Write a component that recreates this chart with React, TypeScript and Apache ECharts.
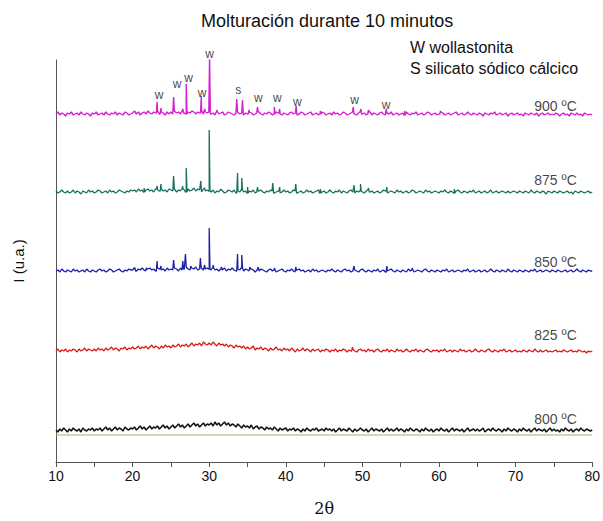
import React, { useEffect, useRef } from "react";
import * as echarts from "echarts";

// 2θ grid of the background readings: 10 .. 80 in 0.25° steps (rows of 5°)
const START = 10;
const STEP = 0.25;

// baselines (axis units, 0 = x axis)
const base900 = 348;
const base875 = 270;
const base850 = 191;
const base825 = 110;
const base800 = 31;
const baseRef = 27;

const noise900 = [
  0, 2, -1, 1, 0, -2, 1, 0, 2, -1, 0, 1, -1, 2, 0, -1, 1, 0, -2, 1,
  0, 2, -1, 0, 1, -1, 2, 0, -1, 1, 0, 2, -1, 1, 0, -1, 2, 1, -1, 0,
  1, 3, 0, 2, -1, 1, 2, 0, 3, 1, 0, 2, 1, 3, 0, 2, 1, -1, 2, 0,
  2, 0, 3, 1, 2, 0, 3, 1, 0, 2, 1, 3, 2, 0, 2, 1, 3, 0, 2, 1,
  2, 0, 1, -1, 2, 0, 1, 2, -1, 0, 2, 1, 0, -1, 1, 2, 0, 1, -1, 1,
  0, 2, 1, -1, 0, 1, 2, 0, -1, 1, 0, 2, 1, -1, 0, 2, 1, 0, -1, 1,
  0, -1, 1, 2, 0, 1, -1, 0, 2, 1, -1, 0, 1, 2, -1, 0, 1, -1, 0, 2,
  1, -1, 0, 1, -1, 2, 0, 1, -1, 0, 2, 1, -1, 0, 1, 2, 0, -1, 1, 2,
  0, 1, -1, 0, 2, -1, 1, 0, -1, 1, 2, 0, -1, 1, 0, 2, -1, 0, 1, -1,
  0, 1, -1, 2, 0, -1, 1, 0, 2, -1, 0, 1, -1, 0, 2, 1, -1, 0, 1, -1,
  0, 2, 1, -1, 0, 1, -1, 0, 1, 2, -1, 0, 1, -1, 0, 2, 0, -1, 1, 0,
  -1, 1, 0, -2, 1, 0, -1, 1, 0, 2, -1, 0, 1, -1, 0, 1, -2, 0, 1, -1,
  0, 1, -1, 0, -2, 1, 0, -1, 1, 0, -1, 1, -2, 0, 1, -1, 0, 1, -1, 0,
  -1, 1, 0, -2, 0, 1, -1, 0, -2, 1, 0, -1, 1, -1, 0, -2, 1, 0, -1, 0,
  -1,
];
const noise875 = [
  1, -1, 0, 2, 0, -1, 1, -1, 0, 2, -1, 1, 0, -2, 1, 0, -1, 2, 0, 1,
  -1, 0, 2, 1, -1, 0, 1, -1, 2, 0, 1, -1, 0, 2, 1, 0, -1, 1, 0, 2,
  1, 2, 0, 3, 1, 2, 0, 2, 3, 1, 2, 0, 3, 2, 1, 3, 1, 2, 0, 3,
  2, 1, 3, 0, 2, 1, 3, 2, 0, 3, 1, 2, 4, 1, 3, 2, 0, 3, 1, 2,
  1, 0, 2, -1, 1, 0, 2, 1, -1, 0, 2, 1, 0, 2, -1, 1, 0, 2, 0, 1,
  -1, 1, 0, 2, -1, 0, 1, 2, 0, -1, 1, 0, 2, 1, -1, 0, 1, -1, 0, 2,
  0, 1, -1, 0, 2, 1, -1, 0, 1, -1, 0, 2, 0, 1, -1, 0, 1, 2, -1, 0,
  1, -1, 0, 2, 0, -1, 1, 0, 2, -1, 1, 0, -1, 1, 2, 0, -1, 1, 0, 1,
  0, -1, 1, 2, 0, 1, -1, 0, 1, -1, 0, 2, 1, -1, 0, 1, 0, -1, 2, 0,
  1, -1, 0, 1, -1, 0, 2, 1, -1, 0, 1, 0, -1, 2, 0, 1, -1, 0, 1, 0,
  -1, 1, 0, 2, 0, -1, 1, 0, -1, 1, 2, 0, -1, 1, 0, -1, 1, 0, 2, -1,
  0, 1, -1, 0, 1, -1, 0, 2, -1, 0, 1, -1, 0, 1, 0, -1, 1, -1, 0, 1,
  0, -1, 1, 0, -1, 1, 0, -1, 2, 0, -1, 1, 0, -1, 1, 0, -2, 1, 0, -1,
  1, 0, -1, 1, 0, -1, 0, 1, -1, 0, -2, 1, 0, -1, 1, 0, -1, 0, 1, -1,
  0,
];
const noise850 = [
  0, 1, -1, 2, 0, -1, 1, 0, -1, 2, 0, 1, -1, 0, 1, -1, 2, 0, -1, 1,
  0, -1, 1, 2, 0, 1, -1, 0, 2, 1, -1, 0, 1, 2, 0, -1, 1, 0, 2, 1,
  1, 3, 0, 2, 1, 3, 1, 0, 2, 3, 1, 2, 0, 3, 2, 1, 2, 0, 3, 1,
  2, 1, 3, 2, 0, 3, 1, 2, 4, 2, 1, 3, 2, 4, 1, 2, 3, 1, 2, 3,
  2, 1, 3, 1, 2, 0, 2, 1, 3, 0, 2, 1, 3, 1, 0, 2, 1, 3, 0, 2,
  1, 0, 2, 1, -1, 1, 0, 2, 1, 0, -1, 1, 2, 0, 1, -1, 0, 1, 2, 0,
  -1, 1, 0, 2, 0, -1, 1, 2, 0, 1, -1, 0, 1, -1, 2, 0, 1, -1, 0, 1,
  0, -1, 1, 0, 2, 0, -1, 1, 0, -1, 1, 2, 0, 1, -1, 0, 1, 0, -1, 1,
  2, 0, -1, 1, 0, -1, 1, 0, 2, -1, 0, 1, -1, 0, 1, 2, 0, -1, 1, 0,
  -1, 1, 0, -1, 2, 0, 1, -1, 0, 1, 0, -1, 1, 2, 0, -1, 1, 0, -1, 1,
  0, -1, 1, 0, 2, -1, 0, 1, -1, 0, 1, 0, -1, 1, 0, 2, -1, 0, 1, -1,
  0, 1, -1, 0, 1, -1, 0, 2, 0, -1, 1, 0, -1, 1, 0, -1, 2, 0, -1, 1,
  0, -1, 1, 0, -1, 1, 0, -1, 1, 0, 2, -1, 0, 1, -1, 0, 1, 0, -1, 1,
  0, -1, 1, 0, -1, 0, 1, -1, 0, 1, -1, 0, 2, 0, -1, 1, 0, -1, 1, 0,
  0,
];
const noise825 = [
  1, 3, 0, 2, 1, 3, 0, 2, 1, 3, 2, 0, 3, 1, 2, 4, 1, 3, 2, 1,
  3, 1, 4, 2, 3, 1, 4, 2, 3, 5, 2, 4, 3, 1, 4, 3, 5, 2, 4, 3,
  5, 3, 4, 6, 3, 5, 4, 6, 3, 5, 7, 4, 6, 5, 3, 6, 4, 7, 5, 6,
  4, 7, 5, 6, 8, 5, 7, 6, 8, 5, 7, 9, 6, 8, 7, 9, 6, 10, 8, 7,
  9, 7, 10, 8, 6, 9, 7, 8, 6, 8, 5, 7, 6, 4, 7, 5, 6, 4, 6, 3,
  5, 3, 4, 6, 2, 4, 3, 5, 2, 4, 3, 1, 4, 2, 3, 5, 2, 3, 1, 4,
  2, 3, 1, 4, 2, 0, 3, 1, 2, 4, 1, 3, 2, 0, 3, 1, 2, 3, 0, 2,
  1, 3, 2, 0, 2, 1, 3, 0, 2, 1, 3, 2, 0, 2, 1, 3, 1, 0, 2, 3,
  1, 2, 0, 3, 1, 2, 0, 2, 3, 1, 0, 2, 1, 3, 0, 2, 1, 0, 3, 1,
  2, 0, 1, 3, 1, 0, 2, 1, 3, 0, 2, 1, 0, 2, 3, 1, 0, 2, 1, 2,
  0, 2, 1, 3, 0, 1, 2, 0, 2, 1, 0, 3, 1, 2, 0, 1, 2, 0, 1, 3,
  1, 0, 2, 1, 0, 2, 3, 1, 0, 2, 1, 0, 2, 1, 3, 0, 1, 2, 0, 1,
  2, 0, 1, 0, 2, 1, 0, 2, 1, 0, 3, 1, 0, 2, 0, 1, 2, 0, 1, 0,
  1, 2, 0, 1, 0, 2, 1, 0, 1, 2, 0, 1, 0, 2, 1, 0, 1, -1, 1, 0,
  1,
];
const noise800 = [
  1, -1, 2, 0, 3, 1, -1, 2, 0, 3, 1, 0, 2, -1, 3, 1, 0, 2, 1, 3,
  0, 2, 1, 3, 0, 2, 4, 1, 3, 0, 2, 4, 1, 3, 2, 0, 4, 2, 1, 3,
  2, 4, 1, 3, 5, 2, 4, 1, 3, 5, 2, 4, 3, 5, 2, 4, 6, 3, 5, 2,
  4, 6, 3, 5, 7, 4, 6, 3, 5, 7, 4, 6, 8, 5, 7, 4, 6, 8, 5, 7,
  6, 8, 5, 9, 6, 8, 5, 7, 9, 6, 8, 5, 7, 6, 4, 7, 5, 3, 6, 4,
  5, 3, 6, 2, 4, 5, 2, 4, 3, 1, 4, 2, 3, 1, 4, 2, 0, 3, 1, 2,
  3, 0, 2, 1, 3, 0, 2, 1, -1, 2, 0, 3, 1, 0, 2, 1, 3, 0, 1, 2,
  0, 3, 1, 2, 0, 2, -1, 1, 3, 0, 2, 1, 0, 3, 1, -1, 2, 0, 1, 3,
  1, 0, 2, -1, 1, 3, 0, 2, 1, 0, 2, -1, 1, 3, 0, 2, 0, 1, 3, 0,
  2, 1, -1, 2, 0, 3, 1, 0, 2, 1, -1, 2, 0, 3, 1, 0, 2, -1, 1, 2,
  0, 3, 1, 0, 2, -1, 1, 3, 0, 2, 1, 0, 2, -1, 1, 3, 0, 1, 2, 0,
  2, 0, 1, 3, -1, 1, 2, 0, 3, 1, 0, 2, 1, -1, 2, 0, 3, 1, 0, 2,
  1, -1, 2, 0, 3, 1, 0, 2, -1, 1, 3, 0, 2, 1, 0, 2, -1, 1, 3, 0,
  2, 0, 1, -1, 2, 0, 3, 1, 0, 2, -1, 1, 2, 0, 3, 1, 0, 2, 1, 0,
  1,
];

// diffraction peaks: [2θ, height above baseline]
const peaks900 = [
  [23.2, 12], [23.7, 6], [25.35, 17], [26.55, 5], [27.0, 30], [28.97, 18], [29.4, 5],
  [30.05, 57], [31.0, 4], [33.6, 15], [34.35, 14], [35.2, 4], [36.3, 7], [38.5, 7],
  [39.2, 5], [41.35, 8], [44.5, 3], [48.8, 7], [49.8, 5], [50.8, 4], [53.1, 5],
  [55.5, 3], [60.2, 3],
];
const peaks875 = [
  [21.5, 4], [23.2, 6], [23.7, 8], [25.35, 16], [26.5, 6], [27.0, 24], [28.9, 11],
  [29.4, 4], [30.0, 62], [31.5, 3], [33.7, 19], [34.25, 14], [35.0, 5], [36.3, 5],
  [38.3, 9], [39.2, 5], [41.3, 8], [44.5, 3], [48.9, 7], [49.75, 8], [50.8, 4],
  [53.2, 5], [62.0, 3],
];
const peaks850 = [
  [20.3, 3], [21.8, 3], [23.2, 10], [23.7, 5], [25.35, 11], [26.55, 10], [26.9, 17],
  [27.6, 5], [28.85, 13], [29.4, 6], [30.0, 43], [30.5, 6], [31.6, 4], [33.7, 17],
  [34.25, 16], [35.3, 4], [36.4, 4], [38.5, 3], [41.3, 4], [48.9, 5], [53.2, 5], [56.5, 3],
];
const peaks825 = [[48.7, 5]];
const peaks800: number[][] = [];

// peak annotations: [2θ, height, letter]
const annotations = [
  [23.45, 367, "w"], [25.8, 378, "w"], [27.3, 384, "w"], [29.06, 369, "w"],
  [30.05, 408, "w"], [33.8, 372, "s"], [36.4, 364, "w"], [38.9, 364, "w"],
  [41.5, 360, "w"], [48.98, 362, "w"], [53.1, 357, "w"],
];

// temperature labels: [right end 2θ, height, text]
const tempLabels = [
  [78.05, 356, "900 ºC"], [78.05, 282, "875 ºC"], [78.05, 200, "850 ºC"],
  [78.05, 127, "825 ºC"], [78.05, 43, "800 ºC"],
];

const xTicks = [10, 20, 30, 40, 50, 60, 70, 80];

const colors = {
  c900: "#d61fd0",
  c875: "#17705f",
  c850: "#1c1ca8",
  c825: "#d4181a",
  c800: "#111111",
  ref: "#b0ab66",
};

function build(base: number, noise: number[], peaks: number[][]) {
  const pts: number[][] = noise.map((v, i) => [START + STEP * i, base + v]);
  const near = (x: number) => {
    const i = Math.min(noise.length - 1, Math.max(0, Math.round((x - START) / STEP)));
    return base + noise[i];
  };
  peaks.forEach(([p, h]) => {
    pts.push([p - 0.1, near(p - 0.1)]);
    pts.push([p, base + h]);
    pts.push([p + 0.1, near(p + 0.1)]);
  });
  pts.sort((a, b) => a[0] - b[0]);
  return pts;
}

const FONT = "'Liberation Sans', Arial, sans-serif";

export default function App() {
  const ref = useRef<HTMLDivElement>(null);
  useEffect(() => {
    document.body.style.margin = "0";
    if (!ref.current) return;
    const chart = echarts.init(ref.current, undefined, { renderer: "svg" });
    const line = (data: number[][], color: string, width = 1) => ({
      type: "line",
      data,
      symbol: "none",
      lineStyle: { color, width },
      silent: true,
      z: 2,
    });
    chart.setOption({
      animation: false,
      title: {
        text: "Molturación durante 10 minutos",
        left: 196,
        top: 7,
        textStyle: { fontFamily: FONT, fontSize: 18, fontWeight: "normal", color: "#111" },
      },
      graphic: [
        {
          type: "text",
          left: 410,
          top: 39,
          style: { text: "W wollastonita", fontFamily: FONT, fontSize: 16, fill: "#111" },
        },
        {
          type: "text",
          left: 410,
          top: 60,
          style: { text: "S silicato sódico cálcico", fontFamily: FONT, fontSize: 16, fill: "#111" },
        },
      ],
      grid: { left: 56, right: 8, top: 60, bottom: 59 },
      xAxis: {
        type: "value",
        min: 10,
        max: 80,
        interval: 5,
        name: "2θ",
        nameLocation: "middle",
        nameGap: 38,
        nameTextStyle: { fontFamily: "'DejaVu Serif', 'Liberation Serif', serif", fontSize: 16, color: "#111" },
        axisLine: { lineStyle: { color: "#555", width: 1 } },
        axisTick: { show: true, length: 5, lineStyle: { color: "#555" } },
        axisLabel: {
          fontFamily: FONT,
          fontSize: 14,
          color: "#111",
          margin: 7,
          formatter: (v: number) => (xTicks.includes(v) ? String(v) : ""),
        },
        splitLine: { show: false },
      },
      yAxis: {
        type: "value",
        min: 0,
        max: 402,
        name: "I (u.a.)",
        nameLocation: "middle",
        nameGap: 30,
        nameTextStyle: { fontFamily: FONT, fontSize: 15, color: "#111" },
        axisLine: { show: true, lineStyle: { color: "#555", width: 1 } },
        axisTick: { show: false },
        axisLabel: { show: false },
        splitLine: { show: false },
      },
      series: [
        line([[10, baseRef], [80, baseRef]], colors.ref, 1),
        line(build(base800, noise800, peaks800), colors.c800, 1.5),
        line(build(base825, noise825, peaks825), colors.c825, 1.3),
        line(build(base850, noise850, peaks850), colors.c850, 1.3),
        line(build(base875, noise875, peaks875), colors.c875, 1.3),
        line(build(base900, noise900, peaks900), colors.c900, 1.4),
        {
          type: "scatter",
          data: annotations,
          symbolSize: 1,
          itemStyle: { color: "rgba(0,0,0,0)" },
          clip: false,
          silent: true,
          label: {
            show: true,
            position: "inside",
            formatter: (p: any) => p.data[2],
            fontFamily: FONT,
            fontSize: 12,
            color: "#111",
          },
        },
        {
          type: "scatter",
          data: tempLabels,
          symbolSize: 1,
          itemStyle: { color: "rgba(0,0,0,0)" },
          clip: false,
          silent: true,
          label: {
            show: true,
            position: "left",
            distance: 0,
            formatter: (p: any) => p.data[2],
            fontFamily: FONT,
            fontSize: 14,
            color: "#111",
          },
        },
      ],
    });
    return () => chart.dispose();
  }, []);
  return <div ref={ref} style={{ width: 603, height: 521 }} />;
}
